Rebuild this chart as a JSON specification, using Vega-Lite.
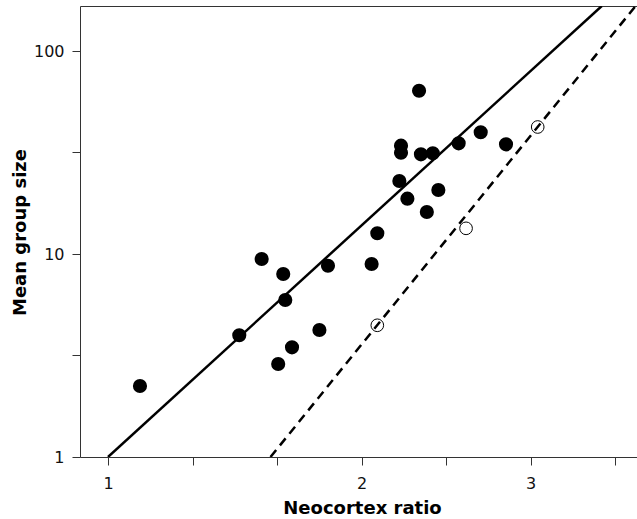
{
  "$schema": "https://vega.github.io/schema/vega-lite/v6.json",
  "width": 557,
  "height": 451,
  "autosize": {"type": "none"},
  "padding": {"left": 80, "top": 6, "right": 0, "bottom": 62},
  "background": "white",
  "config": {"view": {"stroke": null}, "font": "DejaVu Sans"},
  "datasets": {
    "species": [
      {"ratio": 1.091, "size": 2.238, "kind": "filled"},
      {"ratio": 1.430, "size": 3.977, "kind": "filled"},
      {"ratio": 1.520, "size": 9.449, "kind": "filled"},
      {"ratio": 1.612, "size": 7.97, "kind": "filled"},
      {"ratio": 1.621, "size": 5.935, "kind": "filled"},
      {"ratio": 1.651, "size": 3.470, "kind": "filled"},
      {"ratio": 1.590, "size": 2.872, "kind": "filled"},
      {"ratio": 1.779, "size": 4.223, "kind": "filled"},
      {"ratio": 1.821, "size": 8.757, "kind": "filled"},
      {"ratio": 2.051, "size": 8.927, "kind": "filled"},
      {"ratio": 2.083, "size": 12.65, "kind": "filled"},
      {"ratio": 2.334, "size": 63.74, "kind": "filled"},
      {"ratio": 2.222, "size": 34.17, "kind": "filled"},
      {"ratio": 2.222, "size": 31.55, "kind": "filled"},
      {"ratio": 2.212, "size": 22.88, "kind": "filled"},
      {"ratio": 2.346, "size": 30.98, "kind": "filled"},
      {"ratio": 2.423, "size": 31.34, "kind": "filled"},
      {"ratio": 2.600, "size": 35.10, "kind": "filled"},
      {"ratio": 2.761, "size": 39.79, "kind": "filled"},
      {"ratio": 2.958, "size": 34.70, "kind": "filled"},
      {"ratio": 2.261, "size": 18.73, "kind": "filled"},
      {"ratio": 2.460, "size": 20.67, "kind": "filled"},
      {"ratio": 2.384, "size": 16.10, "kind": "filled"},
      {"ratio": 2.083, "size": 4.455, "kind": "open"},
      {"ratio": 2.653, "size": 13.38, "kind": "open"},
      {"ratio": 3.225, "size": 42.23, "kind": "open"}
    ],
    "fits": [
      {"ratio": 1.0, "size": 1.0, "fit": "solid"},
      {"ratio": 3.84, "size": 166.6, "fit": "solid"},
      {"ratio": 1.557, "size": 1.0, "fit": "dashed"},
      {"ratio": 4.211, "size": 166.6, "fit": "dashed"}
    ]
  },
  "resolve": {"axis": {"x": "independent", "y": "independent"}},
  "layer": [
    {
      "data": {"name": "fits"},
      "transform": [{"filter": "datum.fit == 'solid'"}],
      "mark": {"type": "line", "color": "black", "strokeWidth": 2.5, "clip": true},
      "encoding": {
        "x": {
          "field": "ratio", "type": "quantitative",
          "scale": {"type": "log", "domain": [0.9265, 4.227], "nice": false, "zero": false},
          "axis": {
            "orient": "bottom",
            "values": [1, 1.2589, 1.5849, 1.9953, 2.5119, 3.1623, 3.9811],
            "labelExpr": "datum.value == 1 ? '1' : abs(datum.value - 1.9953) < 0.01 ? '2' : abs(datum.value - 3.1623) < 0.01 ? '3' : ''",
            "grid": false,
            "domainColor": "#333333", "domainWidth": 1,
            "tickColor": "#333333", "tickSize": 8, "tickWidth": 1,
            "labelFont": "DejaVu Sans", "labelFontSize": 16, "labelColor": "#111111", "labelPadding": 10,
            "labelFlush": false, "labelOverlap": false,
            "title": "Neocortex ratio",
            "titleFont": "DejaVu Sans", "titleFontSize": 18, "titleFontWeight": "bold", "titleColor": "#000000",
            "titleX": 282, "titleY": 56, "titleBaseline": "alphabetic", "titleAnchor": null, "titleAlign": "center"
          }
        },
        "y": {
          "field": "size", "type": "quantitative",
          "scale": {"type": "log", "domain": [1, 166.6], "nice": false, "zero": false},
          "axis": {
            "orient": "left",
            "values": [1, 3.1623, 10, 31.623, 100],
            "format": "d",
            "labelExpr": "(datum.value == 1 || datum.value == 10 || datum.value == 100) ? datum.label : ''",
            "grid": false,
            "domainColor": "#333333", "domainWidth": 1,
            "tickColor": "#333333", "tickSize": 8, "tickWidth": 1,
            "labelFont": "DejaVu Sans", "labelFontSize": 16, "labelColor": "#111111", "labelPadding": 8,
            "labelFlush": false, "labelOverlap": false,
            "title": "Mean group size",
            "titleFont": "DejaVu Sans", "titleFontSize": 18, "titleFontWeight": "bold", "titleColor": "#000000",
            "titleX": -55, "titleY": 226, "titleBaseline": "alphabetic", "titleAnchor": null, "titleAlign": "center", "titleAngle": -90
          }
        }
      }
    },
    {
      "data": {"name": "fits"},
      "transform": [{"filter": "datum.fit == 'dashed'"}],
      "mark": {"type": "line", "color": "black", "strokeWidth": 2.5, "strokeDash": [9, 6], "clip": true},
      "encoding": {
        "x": {
          "field": "ratio", "type": "quantitative",
          "scale": {"type": "log", "domain": [0.9265, 4.227], "nice": false, "zero": false},
          "axis": {"orient": "top", "labels": false, "ticks": false, "grid": false, "title": null, "domainColor": "#333333", "domainWidth": 1}
        },
        "y": {
          "field": "size", "type": "quantitative",
          "scale": {"type": "log", "domain": [1, 166.6], "nice": false, "zero": false},
          "axis": null
        }
      }
    },
    {
      "data": {"name": "species"},
      "transform": [{"filter": "datum.kind == 'filled'"}],
      "mark": {"type": "point", "filled": true, "color": "black", "opacity": 1, "size": 200},
      "encoding": {
        "x": {"field": "ratio", "type": "quantitative", "scale": {"type": "log", "domain": [0.9265, 4.227], "nice": false, "zero": false}, "axis": null},
        "y": {"field": "size", "type": "quantitative", "scale": {"type": "log", "domain": [1, 166.6], "nice": false, "zero": false}, "axis": null}
      }
    },
    {
      "data": {"name": "species"},
      "transform": [{"filter": "datum.kind == 'open'"}],
      "mark": {"type": "point", "filled": false, "color": "black", "opacity": 1, "strokeWidth": 1, "size": 160},
      "encoding": {
        "x": {"field": "ratio", "type": "quantitative", "scale": {"type": "log", "domain": [0.9265, 4.227], "nice": false, "zero": false}, "axis": null},
        "y": {"field": "size", "type": "quantitative", "scale": {"type": "log", "domain": [1, 166.6], "nice": false, "zero": false}, "axis": null}
      }
    }
  ]
}
